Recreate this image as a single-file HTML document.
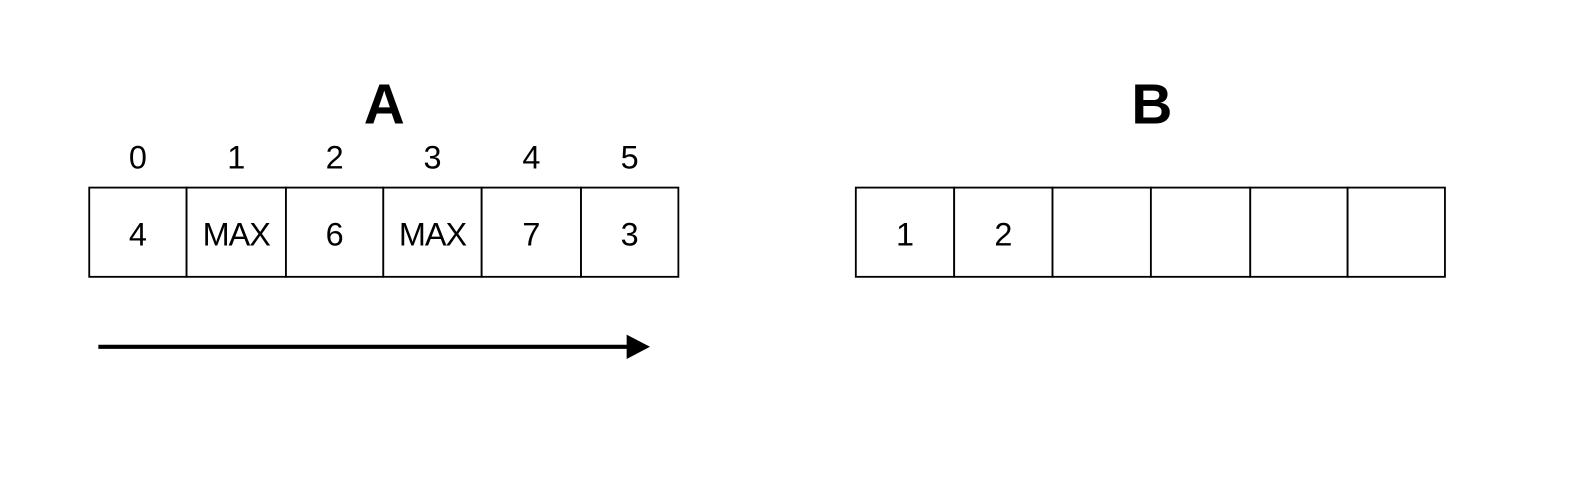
<!DOCTYPE html>
<html><head><meta charset="utf-8"><style>
body{margin:0;background:#fff;width:1590px;height:478px;overflow:hidden}
svg{display:block}
text{font-family:"Liberation Sans",Arial,sans-serif;fill:#000}
</style></head><body>
<svg width="1590" height="478">
<g id="s" transform="scale(1.014)">
<text x="379" y="122" font-size="56" font-weight="bold" text-anchor="middle">A</text>
<text x="1136" y="122" font-size="56" font-weight="bold" text-anchor="middle">B</text>
<line x1="97" y1="342" x2="620" y2="342" stroke="#000" stroke-width="4"/>
<polygon points="618,330 641,342 618,354" fill="#000"/>
</g>
</svg>
<script>
const indices=["0","1","2","3","4","5"];
const valuesA=["4","MAX","6","MAX","7","3"];
const valuesB=["1","2","","","",""];
const svg=document.getElementById('s');
const NS='http://www.w3.org/2000/svg';
const edgesA=[88,184,282,378,475,573,669];
const edgesB=[844,941,1038,1135,1233,1329,1425];
function drawArray(edges,vals,prefix,showIdx){
  for(let i=0;i<vals.length;i++){
    const r=document.createElementNS(NS,'rect');
    r.setAttribute('x',edges[i]);r.setAttribute('y',185);
    r.setAttribute('width',edges[i+1]-edges[i]);r.setAttribute('height',88);
    r.setAttribute('fill','#fff');r.setAttribute('stroke','#000');r.setAttribute('stroke-width','1.8');
    
    
    svg.appendChild(r);
    const cx=(edges[i]+edges[i+1])/2;
    if(vals[i]!==""){
      const t=document.createElementNS(NS,'text');
      t.setAttribute('x',cx);t.setAttribute('y',242);t.setAttribute('font-size','32');t.setAttribute('text-anchor','middle');
      if(vals[i].length>1) t.setAttribute('letter-spacing','-1');
      t.textContent=vals[i];
      
      
      svg.appendChild(t);
    }
    if(showIdx){
      const t=document.createElementNS(NS,'text');
      t.setAttribute('x',cx);t.setAttribute('y',166);t.setAttribute('font-size','32');t.setAttribute('text-anchor','middle');
      t.textContent=indices[i];
      
      
      svg.appendChild(t);
    }
  }
}
drawArray(edgesA,valuesA,'array-a',true);
drawArray(edgesB,valuesB,'array-b',false);
</script>
</body></html>
